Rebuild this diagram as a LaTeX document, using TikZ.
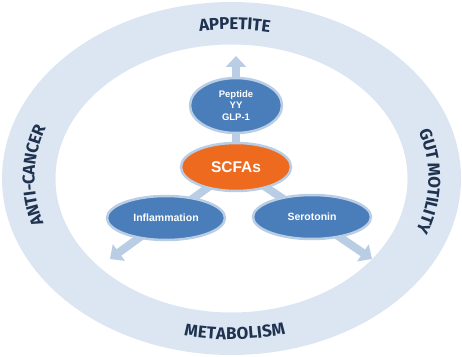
\documentclass[tikz,border=0pt]{standalone}
\usepackage{fontspec}
\setmainfont{Liberation Sans}
\newfontfamily\ringfont{Fira Sans}
\usetikzlibrary{shapes.geometric,arrows.meta,decorations.text,backgrounds}

\definecolor{ringblue}{HTML}{DCE6F2}
\definecolor{navy}{HTML}{1F3350}
\definecolor{linkblue}{HTML}{B9CDE5}
\definecolor{nodeblue}{HTML}{4A7EBB}
\definecolor{scfaorange}{HTML}{EE6A1F}

\pgfdeclarelayer{ring}
\pgfsetlayers{ring,background,main}

\tikzset{
  bubble/.style={ellipse, draw=linkblue, line width=2.5pt, inner sep=0pt,
    text=white, align=center},
  link/.style={draw=linkblue, line width=8pt},
  linkarrow/.style={link, -{Triangle[width=20pt,length=11pt]}},
  ringtext/.style={decorate, decoration={text along path,
    text={|\ringfont\bfseries\fontsize{17}{17}\selectfont|#1},
    text color=navy, text align=center, raise=-6pt}}
}

\begin{document}
\begin{tikzpicture}[x=1pt,y=1pt]
  \useasboundingbox (0,0) rectangle (462,356);
  \coordinate (c) at (231.5,177.5);

  % central pathway nodes
  \node[bubble, fill=nodeblue, minimum width=92pt, minimum height=55pt,
        font=\bfseries\fontsize{9.5}{11.5}\selectfont] (pep) at (236,250.5) {Peptide\\YY\\GLP-1};
  \node[bubble, fill=scfaorange, minimum width=110pt, minimum height=48pt,
        font=\bfseries\fontsize{15.5}{18}\selectfont] (scfa) at (236,189) {SCFAs};
  \node[bubble, fill=nodeblue, minimum width=118pt, minimum height=44pt,
        font=\bfseries\fontsize{10.5}{12}\selectfont] (infl) at (166,138) {Inflammation};
  \node[bubble, fill=nodeblue, minimum width=118pt, minimum height=44pt,
        font=\bfseries\fontsize{10.5}{12}\selectfont] (sero) at (312,139) {Serotonin};

  % free ends of the outgoing arrows
  \coordinate (tipU) at (236,300);
  \coordinate (tipL) at (110,97);
  \coordinate (tipR) at (372,97);

  % connectors behind the nodes
  \begin{pgfonlayer}{background}
    \draw[link] (scfa.center) -- (pep.center);
    \draw[linkarrow] (pep.center) -- (tipU);
    \draw[linkarrow] (scfa.center) -- (tipL);
    \draw[linkarrow] (scfa.center) -- (tipR);
  \end{pgfonlayer}

  % outer ring with curved labels
  \begin{pgfonlayer}{ring}
    \fill[ringblue, even odd rule]
      (c) ellipse[x radius=229.5, y radius=176.5]
      (c) ellipse[x radius=176, y radius=134];
    \path[ringtext=APPETITE]
      ([shift={(119:203 and 155)}]c) arc[start angle=119, end angle=59, x radius=203, y radius=155];
    \path[ringtext=ANTI-CANCER]
      ([shift={(216:203 and 155)}]c) arc[start angle=216, end angle=142, x radius=203, y radius=155];
    \path[ringtext=GUT MOTILITY]
      ([shift={(36:203 and 155)}]c) arc[start angle=36, end angle=-38, x radius=203, y radius=155];
    \path[ringtext=METABOLISM]
      ([shift={(241:203 and 155)}]c) arc[start angle=241, end angle=301, x radius=203, y radius=155];
  \end{pgfonlayer}
\end{tikzpicture}
\end{document}
